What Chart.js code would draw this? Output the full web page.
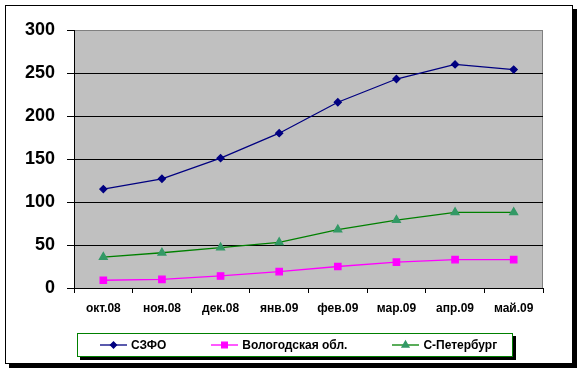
<!DOCTYPE html>
<html>
<head>
<meta charset="utf-8">
<script src="https://cdn.jsdelivr.net/npm/chart.js@4"></script>
<style>
  body { margin: 0; background: #fff; font-family: "Liberation Sans", Arial, sans-serif; }
  #wrap { position: relative; width: 582px; height: 373px; }
  #frame {
    position: absolute; left: 5px; top: 5px; width: 568px; height: 359px;
    box-sizing: border-box; border: 1px solid #000; box-shadow: 4px 4px 0 #000; background: #fff;
  }
  canvas { position: absolute; left: 0; top: 0; }
  #legend {
    position: absolute; left: 77px; top: 333px; width: 436px; height: 24px;
    box-sizing: border-box; border: 1px solid #008000; box-shadow: 3px 3px 0 #000;
    background: #fff; display: flex; align-items: center; padding-left: 22px; gap: 45px;
  }
  .item { display: flex; align-items: center; font-size: 12px; font-weight: bold; }
  .item canvas { position: static; margin-right: 4px; }
</style>
</head>
<body>
<div id="wrap">
  <div id="frame"></div>
  <canvas id="chart" width="582" height="373"></canvas>
  <div id="legend"></div>
</div>
<script>
const months = ["окт.08", "ноя.08", "дек.08", "янв.09", "фев.09", "мар.09", "апр.09", "май.09"];
const szfo = [115, 127, 151, 180, 216, 243, 260, 254];
const vologda = [9, 10, 14, 19, 25, 30, 33, 33];
const spb = [36, 41, 47, 53, 68, 79, 88, 88];
const yTicks = [0, 50, 100, 150, 200, 250, 300];

const series = [
  { label: "СЗФО", data: szfo, line: "#000080", point: "#000080", style: "rectRot", r: 3.5 },
  { label: "Вологодская обл.", data: vologda, line: "#FF00FF", point: "#FF00FF", style: "rect", r: 4.5 },
  { label: "С-Петербург", data: spb, line: "#008000", point: "#339966", style: "triangle", r: 4.5 }
];

// gray plot background
const plotBg = {
  id: "plotBg",
  beforeDraw(chart) {
    const a = chart.chartArea, c = chart.ctx;
    c.save();
    c.fillStyle = "#C0C0C0";
    c.fillRect(a.left, a.top, a.right - a.left, a.bottom - a.top);
    c.strokeStyle = "#808080";
    c.lineWidth = 1;
    c.strokeRect(a.left + 0.5, a.top + 0.5, a.right - a.left - 1, a.bottom - a.top);
    c.restore();
  }
};

new Chart(document.getElementById("chart"), {
  type: "line",
  data: {
    labels: months,
    datasets: series.map(s => ({
      label: s.label,
      data: s.data,
      borderColor: s.line,
      backgroundColor: s.point,
      pointBorderColor: s.point,
      pointBackgroundColor: s.point,
      pointStyle: s.style,
      pointRadius: s.r,
      borderWidth: 1.3,
      tension: 0
    }))
  },
  options: {
    responsive: false,
    animation: false,
    layout: { padding: { left: 0, top: 30, right: 39, bottom: 0 } },
    plugins: { legend: { display: false }, tooltip: { enabled: false } },
    scales: {
      x: {
        offset: true,
        afterFit(s) { s.height = 85; },
        grid: { offset: true, drawOnChartArea: false, color: "#000", tickLength: 5 },
        border: { color: "#000" },
        ticks: { color: "#000", padding: 8, maxRotation: 0, font: { family: "Liberation Sans", size: 12, weight: "bold" } }
      },
      y: {
        min: 0, max: 300,
        afterFit(s) { s.width = 74; },
        afterBuildTicks(s) { s.ticks = yTicks.map(v => ({ value: v })); },
        grid: {
          color: c => (c.tick && c.tick.value === 300 ? "#808080" : "#000"),
          tickColor: "#000",
          tickLength: 7
        },
        border: { color: "#000" },
        ticks: { color: "#000", padding: 12, font: { family: "Liberation Sans", size: 18, weight: "bold" } }
      }
    }
  },
  plugins: [plotBg]
});

// legend
const legend = document.getElementById("legend");
series.forEach(s => {
  const item = document.createElement("div");
  item.className = "item";
  const cv = document.createElement("canvas");
  cv.width = 27; cv.height = 12;
  const g = cv.getContext("2d");
  g.strokeStyle = s.line; g.lineWidth = 1.3;
  g.beginPath(); g.moveTo(0, 6); g.lineTo(27, 6); g.stroke();
  g.fillStyle = s.point; g.strokeStyle = s.point;
  Chart.helpers.drawPoint(g, { pointStyle: s.style, radius: s.r - 0.5, borderWidth: 1 }, 13.5, 6);
  item.appendChild(cv);
  const t = document.createElement("span");
  t.textContent = s.label;
  item.appendChild(t);
  legend.appendChild(item);
});
</script>
</body>
</html>
